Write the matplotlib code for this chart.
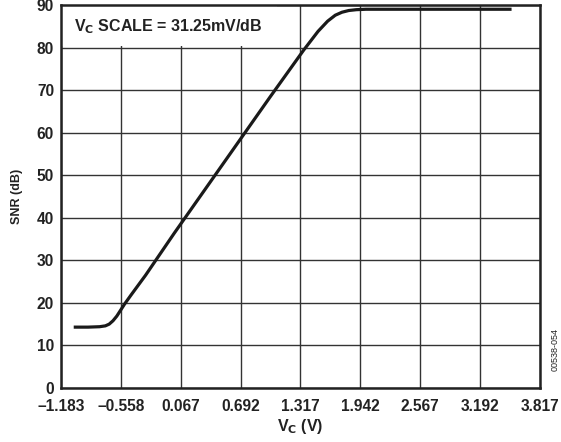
import matplotlib.pyplot as plt
from matplotlib.patches import Rectangle

plt.rcParams['font.family'] = ['Liberation Sans', 'DejaVu Sans']
plt.rcParams['font.weight'] = 'bold'

# V_C (V) vs SNR (dB)
vc = [-1.05, -0.90, -0.78, -0.72, -0.68, -0.64, -0.60, -0.56, -0.52, -0.45,
      -0.30, 0.0, 0.5, 1.0, 1.35, 1.50, 1.60, 1.68, 1.75, 1.82, 1.90, 2.0,
      2.3, 2.8, 3.2, 3.52]
snr = [14.3, 14.3, 14.4, 14.6, 15.0, 15.8, 16.9, 18.3, 19.7, 21.9,
       26.5, 36.4, 52.4, 68.4, 79.4, 83.8, 86.2, 87.6, 88.3, 88.7, 88.9, 89.0,
       89.0, 89.0, 89.0, 89.0]

xticks = [-1.183, -0.558, 0.067, 0.692, 1.317, 1.942, 2.567, 3.192, 3.817]
yticks = [0, 10, 20, 30, 40, 50, 60, 70, 80, 90]

fig = plt.figure(figsize=(5.61, 4.42), dpi=100)
ax = fig.add_axes([0.1087, 0.1222, 0.8539, 0.8665])

ax.plot(vc, snr, color='#1a1a1a', lw=2.3, solid_capstyle='butt', zorder=4)

ax.set_xlim(xticks[0], xticks[-1])
ax.set_ylim(0, 90)
ax.set_xticks(xticks)
ax.set_xticklabels(['–1.183', '–0.558', '0.067', '0.692', '1.317',
                    '1.942', '2.567', '3.192', '3.817'])
ax.set_yticks(yticks)
ax.tick_params(length=0, labelsize=11.2, colors='#222222')
ax.tick_params(axis='x', pad=8)
ax.tick_params(axis='y', pad=5)
ax.grid(True, color='#333333', lw=1.0)
ax.set_axisbelow(True)
for s in ax.spines.values():
    s.set_linewidth(1.8)
    s.set_color('#222222')

# label box in the top-left corner covering the grid
ax.add_patch(Rectangle((xticks[0], 80.4), 2.25, 9.6, facecolor='white',
                       edgecolor='none', zorder=2))
ax.text(-1.05, 85.0, r'V$_\mathbf{C}$ SCALE = 31.25mV/dB', fontsize=11.5,
        fontweight='bold', va='center', ha='left', color='#222222', zorder=3)

ax.set_xlabel(r'V$_\mathbf{C}$ (V)', fontsize=11.5, fontweight='bold',
              color='#222222', labelpad=2)
ax.set_ylabel('SNR (dB)', fontsize=9, fontweight='bold', color='#222222',
              labelpad=10)

fig.text(0.99, 0.21, '00538-054', rotation=90, fontsize=6.5,
         fontweight='normal', ha='center', va='center', color='#222222')

fig.savefig('out.png', dpi=100)
